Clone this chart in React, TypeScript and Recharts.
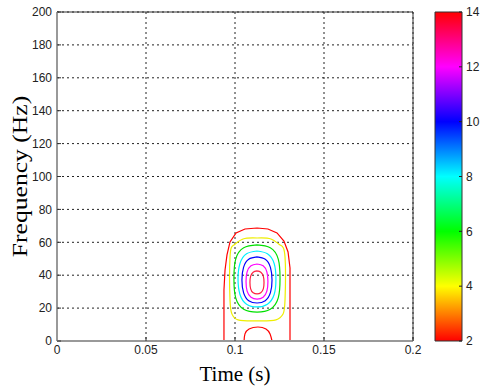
import React from "react";
import {
  ComposedChart,
  BarChart,
  Bar,
  Line,
  XAxis,
  YAxis,
  CartesianGrid,
  ReferenceArea,
} from "recharts";

// time (s), frequency (Hz) — contour points
const timeTicks = [0, 0.05, 0.1, 0.15, 0.2];
const freqTicks = [0, 20, 40, 60, 80, 100, 120, 140, 160, 180, 200];
const colorbarTicks = [2, 4, 6, 8, 10, 12, 14];
const colorbarColors = ["#ff0000", "#ffff00", "#00ff00", "#00ffff", "#0000ff", "#ff00ff", "#ff0000"];
const colorbarRange = [{ name: "cb", range: [2, 14] }];

const level2Outer: [number, number][] = [
  [0.0938, 0], [0.0938, 31.0], [0.0944, 43.2], [0.0955, 52.3], [0.0972, 60.2],
  [0.1006, 65.7], [0.1056, 68.1], [0.1124, 68.7], [0.1185, 68.1], [0.1236, 65.7],
  [0.1275, 60.8], [0.1298, 54.1], [0.1309, 44.4], [0.1309, 0],
];
const level2Inner: [number, number][] = [
  [0.1051, 0], [0.1056, 4.3], [0.1079, 7.3], [0.1129, 8.5], [0.1174, 7.3],
  [0.1197, 4.3], [0.1208, 0],
];
const level4: [number, number][] = [
  [0.1124, 62.6], [0.1202, 62.0], [0.1253, 58.4], [0.1281, 51.1], [0.1281, 24.9],
  [0.127, 16.4], [0.123, 12.8], [0.1124, 12.2], [0.1017, 12.8], [0.0983, 16.4],
  [0.0972, 24.9], [0.0972, 51.1], [0.0994, 58.4], [0.1045, 62.0], [0.1124, 62.6],
];
const level6: [number, number][] = [
  [0.1124, 58.4], [0.1198, 56.7], [0.1243, 49.8], [0.1253, 38.0], [0.1243, 26.2],
  [0.1198, 19.3], [0.1124, 17.6], [0.1049, 19.3], [0.1004, 26.2], [0.0994, 38.0],
  [0.1004, 49.8], [0.1049, 56.7], [0.1124, 58.4],
];
const level8: [number, number][] = [
  [0.1124, 54.7], [0.1182, 53.0], [0.122, 47.1], [0.123, 37.7], [0.122, 28.3],
  [0.1182, 22.4], [0.1124, 20.7], [0.1065, 22.4], [0.1028, 28.3], [0.1017, 37.7],
  [0.1028, 47.1], [0.1065, 53.0], [0.1124, 54.7],
];
const level10: [number, number][] = [
  [0.1124, 51.1], [0.117, 49.7], [0.1199, 44.8], [0.1208, 37.1], [0.1199, 29.4],
  [0.117, 24.5], [0.1124, 23.1], [0.1077, 24.5], [0.1048, 29.4], [0.1039, 37.1],
  [0.1048, 44.8], [0.1077, 49.7], [0.1124, 51.1],
];
const level12: [number, number][] = [
  [0.1124, 46.8], [0.1158, 45.7], [0.1179, 42.0], [0.1185, 36.2], [0.1179, 30.3],
  [0.1158, 26.6], [0.1124, 25.5], [0.109, 26.6], [0.1068, 30.3], [0.1062, 36.2],
  [0.1068, 42.0], [0.109, 45.7], [0.1124, 46.8],
];
const level13: [number, number][] = [
  [0.1124, 42.6], [0.1145, 41.8], [0.1159, 39.4], [0.1163, 35.6], [0.1159, 31.7],
  [0.1145, 29.3], [0.1124, 28.6], [0.1102, 29.3], [0.1088, 31.7], [0.1084, 35.6],
  [0.1088, 39.4], [0.1102, 41.8], [0.1124, 42.6],
];

const contours = [
  { name: "c2a", pts: level2Outer, color: "#ff0000", curve: "linear" },
  { name: "c2b", pts: level2Inner, color: "#ff0000", curve: "natural" },
  { name: "c4", pts: level4, color: "#eeee00", curve: "natural" },
  { name: "c6", pts: level6, color: "#00e000", curve: "natural" },
  { name: "c8", pts: level8, color: "#00f0ff", curve: "natural" },
  { name: "c10", pts: level10, color: "#0000ff", curve: "natural" },
  { name: "c12", pts: level12, color: "#ff00ff", curve: "natural" },
  { name: "c13", pts: level13, color: "#ff2040", curve: "natural" },
];

const tickStyle = { fontSize: 12, fill: "#222", fontFamily: "'Liberation Sans', Arial, sans-serif" };
const serif = "'Liberation Serif', 'Times New Roman', serif";

function FreqLabel(props: any) {
  const { x, y, height } = props.viewBox;
  const cx = x + 20;
  const cy = y + height / 2;
  return (
    <text
      transform={`translate(${cx},${cy}) rotate(-90) scale(1.22,1)`}
      textAnchor="middle"
      dominantBaseline="central"
      fontSize={21}
      fontFamily={serif}
      fill="#000"
    >
      Frequency (Hz)
    </text>
  );
}

export default function App() {
  return (
    <div style={{ position: "absolute", left: 0, top: 0, width: 482, height: 389, background: "#fff" }}>
      <ComposedChart width={482} height={389} margin={{ top: 12, right: 69, bottom: 0, left: 0 }}>
        <CartesianGrid stroke="#222" strokeDasharray="2 3" strokeWidth={1} />
        <XAxis
          type="number"
          dataKey="t"
          domain={[0, 0.2]}
          ticks={timeTicks}
          tick={tickStyle}
          tickSize={-4}
          tickMargin={8}
          tickLine={{ stroke: "#333" }}
          axisLine={{ stroke: "#999", strokeWidth: 2 }}
          height={48}
          label={{ value: "Time (s)", position: "insideBottom", offset: 8, fontSize: 21, fontFamily: serif, fill: "#000" }}
        />
        <YAxis
          type="number"
          dataKey="f"
          domain={[0, 200]}
          ticks={freqTicks}
          tick={tickStyle}
          tickSize={-4}
          tickMargin={9}
          tickLine={{ stroke: "#333" }}
          axisLine={{ stroke: "#999", strokeWidth: 2 }}
          width={57}
          label={<FreqLabel />}
        />
        {contours.map((c) => (
          <Line
            key={c.name}
            data={c.pts.map(([t, f]) => ({ t, f }))}
            dataKey="f"
            type={c.curve as any}
            stroke={c.color}
            strokeWidth={1.2}
            dot={false}
            activeDot={false}
            isAnimationActive={false}
          />
        ))}
        <ReferenceArea x1={0} x2={0.2} y1={0} y2={200} fill="none" stroke="#333" strokeWidth={1} />
      </ComposedChart>
      <div style={{ position: "absolute", left: 420, top: 0 }}>
        <BarChart
          width={62}
          height={389}
          data={colorbarRange}
          margin={{ top: 12, right: 0, bottom: 48, left: 15 }}
          barCategoryGap={0}
        >
          <defs>
            <linearGradient id="cbar" x1="0" y1="1" x2="0" y2="0">
              {colorbarColors.map((col, i) => (
                <stop key={i} offset={i / (colorbarColors.length - 1)} stopColor={col} />
              ))}
            </linearGradient>
          </defs>
          <XAxis dataKey="name" hide />
          <YAxis
            orientation="right"
            type="number"
            domain={[2, 14]}
            ticks={colorbarTicks}
            tick={tickStyle}
            tickSize={-3}
            tickMargin={7}
            tickLine={{ stroke: "#222" }}
            axisLine={false}
            width={20}
          />
          <Bar dataKey="range" fill="url(#cbar)" stroke="#333" strokeWidth={1} isAnimationActive={false} />
        </BarChart>
      </div>
    </div>
  );
}
